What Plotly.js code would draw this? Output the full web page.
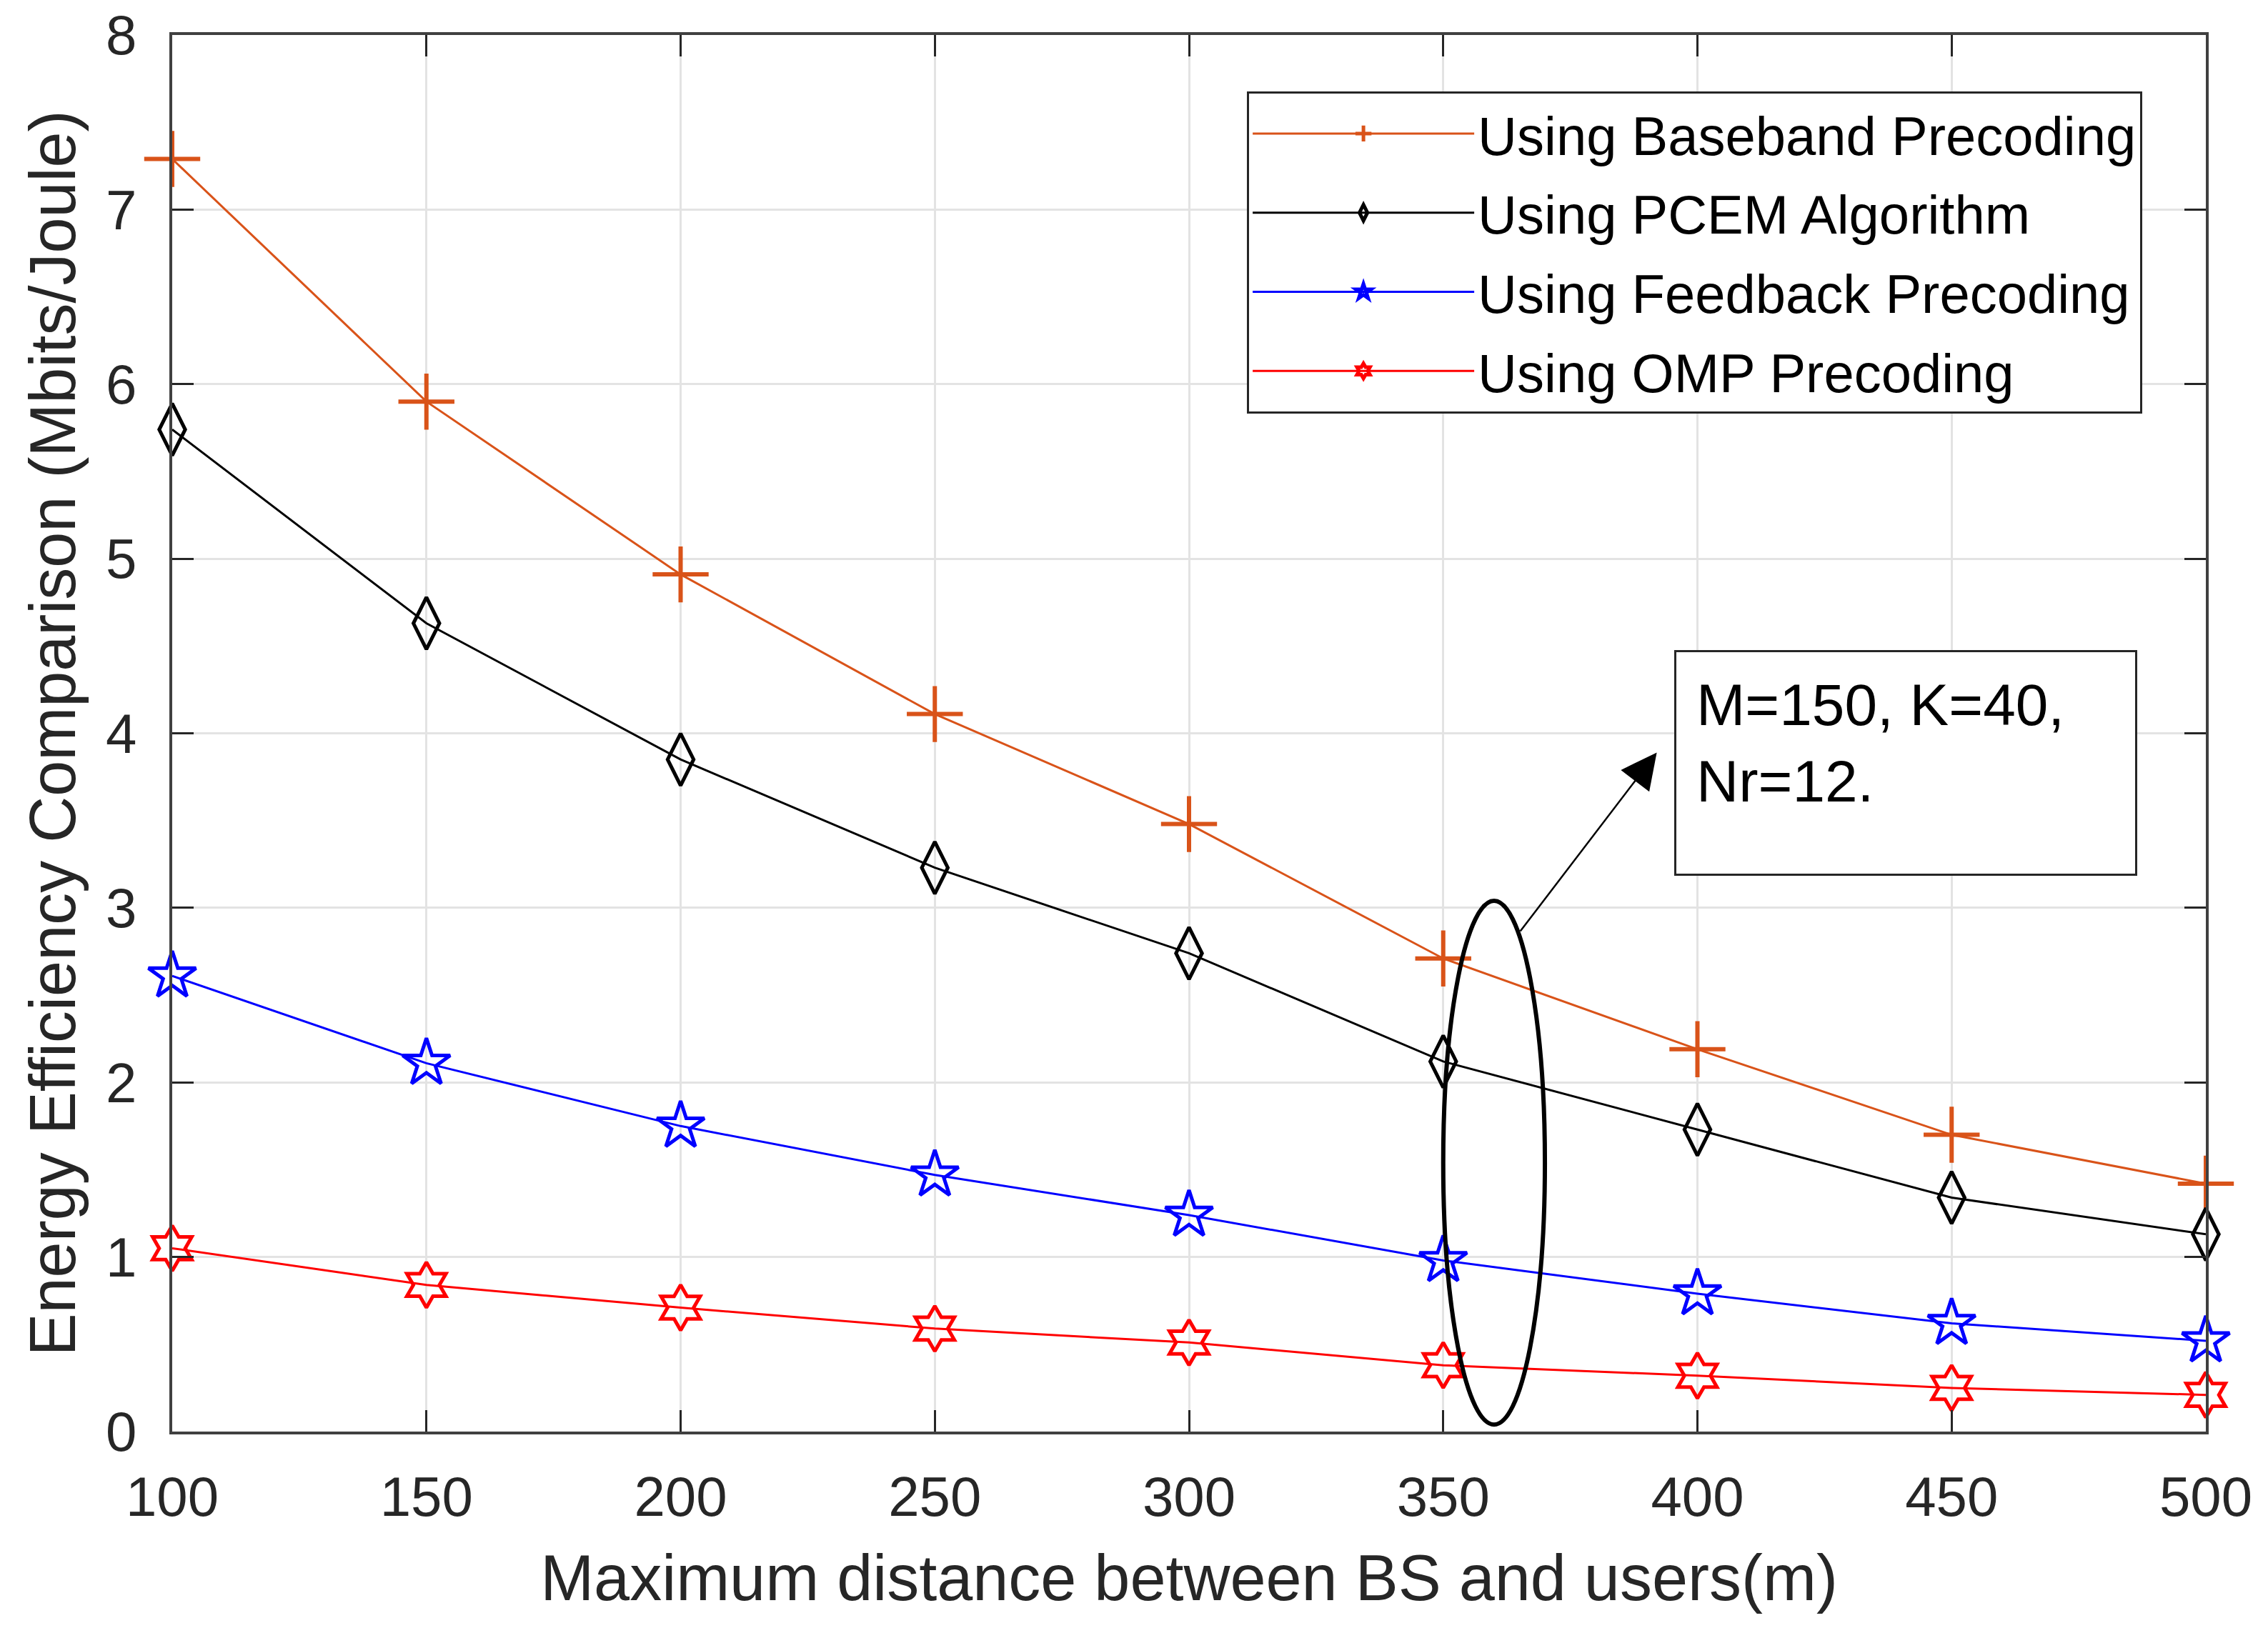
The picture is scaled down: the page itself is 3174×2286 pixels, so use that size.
<!DOCTYPE html>
<html>
<head>
<meta charset="utf-8">
<script src="https://cdn.plot.ly/plotly-3.0.1.min.js"></script>
<style>
  body { margin: 0; background: #fff; }
  #plot { width: 3174px; height: 2286px; }
</style>
</head>
<body>
<div id="plot"></div>
<script>
// distances (m)
var distance = [100, 150, 200, 250, 300, 350, 400, 450, 500];

// energy efficiency, Mbits/Joule
var ee_baseband = [7.29, 5.90, 4.91, 4.11, 3.48, 2.71, 2.19, 1.70, 1.42];
var ee_pcem     = [5.74, 4.63, 3.85, 3.23, 2.74, 2.12, 1.73, 1.34, 1.13];
var ee_feedback = [2.61, 2.11, 1.75, 1.47, 1.24, 0.98, 0.79, 0.62, 0.52];
var ee_omp      = [1.05, 0.84, 0.71, 0.59, 0.51, 0.38, 0.32, 0.25, 0.21];

var x_ticks = [100, 150, 200, 250, 300, 350, 400, 450, 500];
var y_ticks = [0, 1, 2, 3, 4, 5, 6, 7, 8];

var font = '"Liberation Sans", Arial, sans-serif';

var baseband = {
    x: distance,
    y: ee_baseband,
    name: 'Using Baseband Precoding',
    legendgroup: 'a',
    type: 'scatter',
    mode: 'lines+markers',
    cliponaxis: false,
    line: {color: '#D95319', width: 3},
    marker: {symbol: 'cross-thin-open', size: 56, line: {color: '#D95319', width: 6}}
};

var pcem = {
    x: distance,
    y: ee_pcem,
    name: 'Using PCEM Algorithm',
    legendgroup: 'b',
    type: 'scatter',
    mode: 'lines+markers',
    cliponaxis: false,
    line: {color: '#000000', width: 3},
    marker: {symbol: 'diamond-tall-open', size: 52, line: {color: '#000000', width: 5}}
};

var feedback = {
    x: distance,
    y: ee_feedback,
    name: 'Using Feedback Precoding',
    legendgroup: 'c',
    type: 'scatter',
    mode: 'lines+markers',
    cliponaxis: false,
    line: {color: '#0000FF', width: 3},
    marker: {symbol: 'star-open', size: 50, line: {color: '#0000FF', width: 5}}
};

var omp = {
    x: distance,
    y: ee_omp,
    name: 'Using OMP Precoding',
    legendgroup: 'd',
    type: 'scatter',
    mode: 'lines+markers',
    cliponaxis: false,
    line: {color: '#FF0000', width: 3},
    marker: {symbol: 'hexagram-open', size: 48, line: {color: '#FF0000', width: 5}}
};

var data = [baseband, pcem, feedback, omp];

var axis_common = {
    showgrid: true,
    gridcolor: '#e3e3e3',
    gridwidth: 3,
    showline: true,
    linecolor: '#404040',
    linewidth: 4,
    mirror: 'allticks',
    ticks: 'inside',
    ticklen: 30,
    tickwidth: 3,
    tickcolor: '#262626',
    zeroline: false,
    tickfont: {family: font, size: 78, color: '#262626'}
};

var layout = {
    width: 3174,
    height: 2286,
    margin: {l: 241, r: 87, t: 49, b: 282},
    paper_bgcolor: '#ffffff',
    plot_bgcolor: '#ffffff',
    font: {family: font, color: '#262626'},
    xaxis: Object.assign({}, axis_common, {
        range: [100, 500],
        tickvals: x_ticks,
        ticklabelstandoff: 20,
        title: {text: 'Maximum distance between BS and users(m)', font: {family: font, size: 90, color: '#262626'}, standoff: 40}
    }),
    yaxis: Object.assign({}, axis_common, {
        range: [0, 8],
        tickvals: y_ticks,
        ticklabelstandoff: 30,
        title: {text: 'Energy Efficiency Comparison (Mbits/Joule)', font: {family: font, size: 90, color: '#262626'}, standoff: 14}
    }),
    showlegend: true,
    legend: {
        x: 0.5285,
        y: 0.9596,
        xanchor: 'left',
        yanchor: 'top',
        bgcolor: '#ffffff',
        bordercolor: '#262626',
        borderwidth: 3,
        font: {family: font, size: 76, color: '#000000'},
        itemwidth: 310,
        tracegroupgap: 9
    },
    shapes: [{
        type: 'circle',
        xref: 'x',
        yref: 'y',
        x0: 350,
        x1: 370,
        y0: 0.04,
        y1: 3.04,
        line: {color: '#000000', width: 6}
    }],
    annotations: [{
        // note box
        x: 441,
        y: 3.83,
        xref: 'x',
        yref: 'y',
        text: 'M=150, K=40,<br>Nr=12.',
        showarrow: false,
        align: 'left',
        valign: 'top',
        width: 586,
        height: 254,
        borderpad: 28,
        bordercolor: '#262626',
        borderwidth: 3,
        bgcolor: '#ffffff',
        font: {family: font, size: 82, color: '#000000'}
    }, {
        // arrow from ellipse to note
        x: 392,
        y: 3.89,
        ax: 365,
        ay: 2.86,
        xref: 'x',
        yref: 'y',
        axref: 'x',
        ayref: 'y',
        text: '',
        showarrow: true,
        arrowhead: 2,
        arrowsize: 4,
        arrowwidth: 2.5,
        arrowcolor: '#000000'
    }]
};

Plotly.newPlot('plot', data, layout, {displayModeBar: false, staticPlot: true});
</script>
</body>
</html>
